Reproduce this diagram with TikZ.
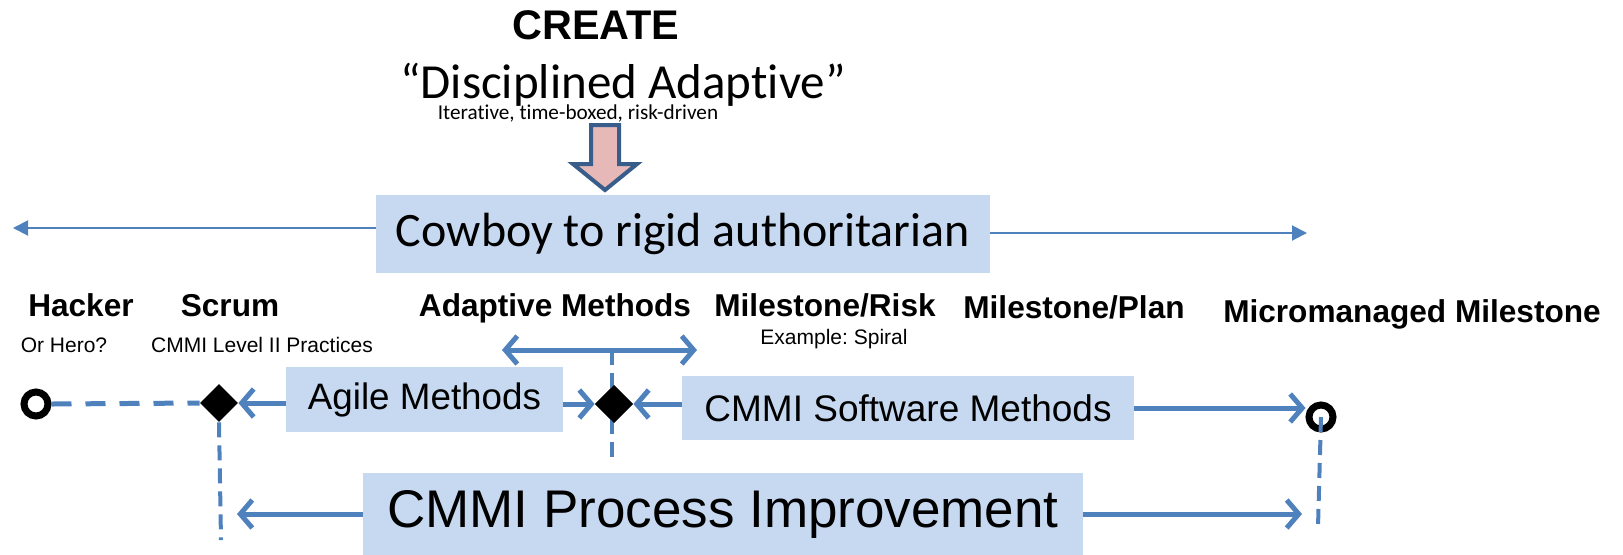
\documentclass[tikz,border=0pt]{standalone}
\usepackage{fontspec}
\setmainfont{Liberation Sans}
\newfontfamily\calibri[Ligatures={NoCommon,NoContextual},RawFeature={-liga;-clig;-calt}]{Carlito}
\usetikzlibrary{positioning,shapes.geometric,arrows.meta}
\definecolor{accent}{HTML}{4F81BD}
\definecolor{boxfill}{HTML}{C6D9F1}
\definecolor{pinkfill}{HTML}{E6B9B8}
\definecolor{darkedge}{HTML}{385D8A}
\newcommand{\fsz}[1]{\fontsize{#1}{#1}\selectfont}
\frenchspacing

\begin{document}
\begin{tikzpicture}[x=0.5pt, y=-0.5pt,
	>={Straight Barb[length=6pt, width=14pt]},
	bluebox/.style={fill=boxfill, inner sep=0pt},
	label/.style={font=\bfseries\fsz{15.8pt}, anchor=base, inner sep=0pt},
	note/.style={font=\fsz{10.5pt}, anchor=base, inner sep=0pt},
	bluearrow/.style={draw=accent, line width=2.5pt, ->},
	thinarrow/.style={draw=accent, line width=1pt, -{Triangle[length=7.5pt, width=7.5pt]}},
	dashline/.style={draw=accent, line width=2.5pt, dash pattern=on 10pt off 7pt},
	vdash/.style={draw=accent, line width=2pt, dash pattern=on 7.5pt off 4pt},
	ring/.style={draw, circle, line width=3.5pt, minimum size=12pt, inner sep=0pt},
	gem/.style={diamond, fill=black, inner sep=0pt, minimum width=19pt, minimum height=19pt}
	]
	\useasboundingbox (0,0) rectangle (1623,554);
	
	% title
	\node[font=\bfseries\fsz{20.7pt}, anchor=base] (create) at (596,39) {CREATE};
	\node[font=\calibri\fsz{24.5pt}, anchor=base] (disc) at (623,98) {“Disciplined Adaptive”};
	\node[font=\calibri\fsz{10.6pt}, anchor=base, inner sep=0pt] (iter) at (578,119) {Iterative, time-boxed, risk-driven};
	\draw[draw=darkedge, fill=pinkfill, line width=2pt] (591,125) -- (619,125) -- (619,164) -- (637,164)
		-- (605,190) -- (573,164) -- (591,164) -- cycle;
	
	% scale
	\node[bluebox, minimum width=307pt, minimum height=39pt, font=\calibri\fsz{24pt}] (cowboy) at (683,234) {Cowboy to rigid authoritarian};
	\coordinate (farleft) at (13,228);
	\coordinate (farright) at (1307,233);
	\draw[thinarrow] (farleft -| cowboy.west) -- (farleft);
	\draw[thinarrow] (farright -| cowboy.east) -- (farright);
	
	% labels
	\node[label] (hacker) at (81,316) {Hacker};
	\node[label] (scrum) at (230,316) {Scrum};
	\node[label] (adaptive) at (555,316) {Adaptive Methods};
	\node[label] (risk) at (825,316) {Milestone/Risk};
	\node[label] (plan) at (1074,318) {Milestone/Plan};
	\node[label] (micro) at (1412,322) {Micromanaged Milestone};
	\node[note] (hero) at (64,352) {Or Hero?};
	\node[note] (level) at (262,352) {CMMI Level II Practices};
	\node[note] (spiral) at (834,344) {Example: Spiral};
	
	% methods
	\node[ring] (start) at (36,404) {};
	\node[ring] (finish) at (1321,417) {};
	\node[gem] (d1) at (219,403) {};
	\node[gem] (d2) at (614,404) {};
	\node[bluebox, minimum width=138.5pt, minimum height=32.5pt, font=\fsz{18.4pt}] (agile) at (424.5,399.5) {Agile Methods};
	\node[bluebox, minimum width=226pt, minimum height=32pt, font=\fsz{18.5pt}] (cmmisw) at (908,408) {CMMI Software Methods};
	\node[bluebox, minimum width=360pt, minimum height=41pt, font=\fsz{26.5pt}] (pi) at (723,514) {CMMI Process Improvement};
	
	\coordinate (adL) at (502,350);
	\coordinate (adR) at (697,350);
	\coordinate (d1end) at (221,540);
	\coordinate (d2end) at (612,460);
	\coordinate (finend) at (1318,527);
	\coordinate (piL) at (237,514);
	\coordinate (piR) at (1302,514);
	
	\draw[dashline] (start.east) -- (d1.west);
	\draw[vdash] (d1.south) -- (d1end);
	\draw[vdash] (adL -| d2end) -- (d2end);
	\draw[vdash] (finish.center) -- (finend);
	\draw[draw=accent, line width=2.5pt, <->] (adL) -- (adR);
	\draw[bluearrow] (agile.west |- d1) -- (d1.east);
	\draw[bluearrow] (agile.east |- d2) -- (d2.west);
	\draw[bluearrow] (cmmisw.west |- d2) -- (d2.east);
	\draw[bluearrow] (cmmisw.east) -- (cmmisw.east -| finish.west);
	\draw[bluearrow] (pi.west) -- (piL);
	\draw[bluearrow] (pi.east) -- (piR);
	\node[gem] at (d2) {};
\end{tikzpicture}
\end{document}
